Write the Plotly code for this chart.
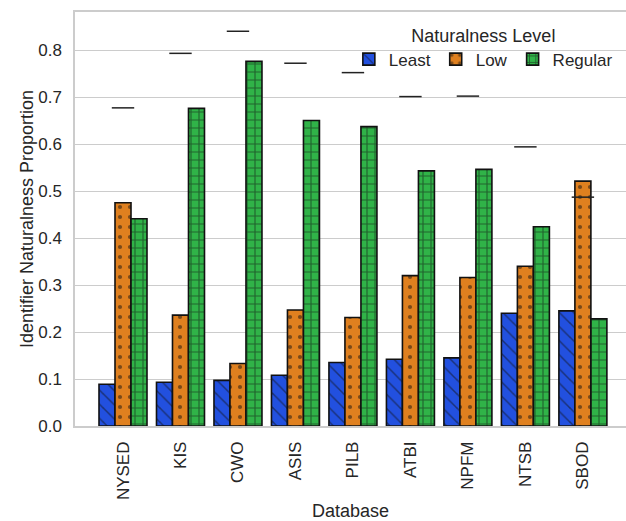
import plotly.graph_objects as go

categories = ["NYSED", "KIS", "CWO", "ASIS", "PILB", "ATBI", "NPFM", "NTSB", "SBOD"]
least = [0.089, 0.093, 0.097, 0.108, 0.135, 0.142, 0.145, 0.240, 0.245]
low = [0.475, 0.236, 0.133, 0.247, 0.231, 0.320, 0.316, 0.340, 0.521]
regular = [0.441, 0.676, 0.776, 0.650, 0.637, 0.543, 0.546, 0.424, 0.228]
marks = [0.677, 0.793, 0.840, 0.772, 0.752, 0.701, 0.702, 0.594, 0.487]

series = [
    ("Least", least, "#2250df", "\\", 10, 0.15),
    ("Low", low, "#df801f", ".", 10, 0.14),
    ("Regular", regular, "#30b348", "+", 8, 0.26),
]

fig = go.Figure()
for name, vals, color, shape, size, sol in series:
    fig.add_trace(go.Bar(
        x=categories, y=vals, name=name,
        marker=dict(
            color=color,
            line=dict(color="#111111", width=1.6),
            pattern=dict(shape=shape, fgcolor="#111111", bgcolor=color,
                         size=size, solidity=sol, fillmode="overlay"),
        ),
    ))

fig.add_trace(go.Scatter(
    x=categories, y=marks, mode="markers", showlegend=False, hoverinfo="skip",
    marker=dict(symbol="line-ew", size=16, color="#222222",
                line=dict(color="#222222", width=1.5)),
))

font_family = "Liberation Sans, Arial, sans-serif"
fig.update_layout(
    width=626, height=521,
    margin=dict(l=75, r=0, t=12, b=95, autoexpand=False),
    paper_bgcolor="white", plot_bgcolor="white",
    barmode="group", bargap=0.165, bargroupgap=0,
    font=dict(family=font_family, size=17, color="#262626"),
    legend=dict(
        title=dict(text="Naturalness Level", side="top center",
                   font=dict(size=18, color="#262626")),
        orientation="h", x=0.497, xanchor="left", y=0.985, yanchor="top",
        bgcolor="rgba(255,255,255,0)", font=dict(size=17),
        itemwidth=30, tracegroupgap=0,
    ),
    xaxis=dict(
        title=dict(text="Database", font=dict(size=18), standoff=10),
        range=[-0.835, 8.75], tickangle=-90, automargin=False,
        showline=True, linecolor="#cccccc", linewidth=1.5, mirror=True,
        showgrid=False, ticks="", tickfont=dict(size=17), ticklabelstandoff=7,
    ),
    yaxis=dict(
        title=dict(text="Identifier Naturalness Proportion", font=dict(size=18), standoff=0),
        range=[0, 0.881], tickvals=[0, 0.1, 0.2, 0.3, 0.4, 0.5, 0.6, 0.7, 0.8],
        ticktext=["0.0", "0.1", "0.2", "0.3", "0.4", "0.5", "0.6", "0.7", "0.8"],
        showline=True, linecolor="#cccccc", linewidth=1.5, automargin=False,
        showgrid=True, gridcolor="#cccccc", gridwidth=1.2,
        zeroline=False, ticks="", tickfont=dict(size=17), ticklabelstandoff=8,
    ),
)

fig.write_html("out.html", config={"displayModeBar": False},
               post_script="document.body.style.margin='0';document.body.style.overflow='hidden';")
